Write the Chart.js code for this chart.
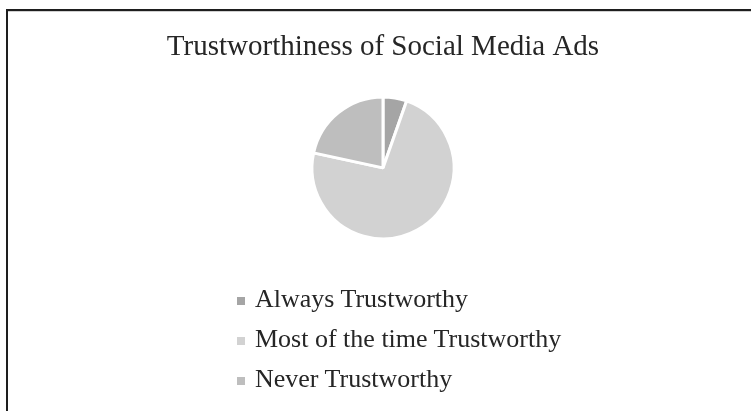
<!DOCTYPE html>
<html>
<head>
<meta charset="utf-8">
<script src="https://cdn.jsdelivr.net/npm/chart.js@4.4.0/dist/chart.umd.min.js"></script>
<style>
  html, body { margin: 0; padding: 0; background: #fff; }
  body { width: 751px; height: 411px; position: relative; overflow: hidden; }
  #frame {
    position: absolute; left: 6px; top: 9px; width: 760px; height: 420px;
    border-top: 2px solid #1e1e1e; border-left: 2px solid #1e1e1e;
    box-shadow: inset 0 1px 0 #d0d0d0;
  }
  #wrap { position: absolute; left: 0; top: 0; width: 751px; height: 411px; }
  #legend { position: absolute; left: 237px; top: 279px; margin: 0; padding: 0; list-style: none; }
  #legend li { position: relative; height: 40px; width: 400px; }
  #legend .box { position: absolute; left: 0; top: 18px; width: 8px; height: 8px; }
  #legend .txt {
    position: absolute; left: 18px; top: 0; line-height: 40px; white-space: nowrap;
    font-family: 'Liberation Serif', 'Times New Roman', serif; font-size: 26px; color: #262626;
  }
</style>
</head>
<body>
<div id="frame"></div>
<div id="wrap"><canvas id="myChart" width="751" height="411"></canvas></div>
<ul id="legend"></ul>
<script>
'use strict';
const categories = ['Always Trustworthy', 'Most of the time Trustworthy', 'Never Trustworthy'];
const shares = [5.4, 73.0, 21.6];
const sliceColors = ['#a5a5a5', '#d2d2d2', '#bebebe'];
const chartTitle = 'Trustworthiness of Social Media Ads';

const ctx = document.getElementById('myChart');
const chart = new Chart(ctx, {
    type: 'pie',
    data: {
        labels: categories,
        datasets: [{
            data: shares,
            backgroundColor: sliceColors,
            borderColor: '#ffffff',
            borderWidth: 3,
        }]
    },
    options: {
        responsive: false,
        animation: false,
        radius: 71,
        layout: {
            padding: { left: 15, right: 0, top: 0, bottom: 173 }
        },
        plugins: {
            legend: { display: false },
            tooltip: { enabled: false },
            title: {
                display: true,
                text: chartTitle,
                color: '#262626',
                font: { family: "'Liberation Serif', 'Times New Roman', serif", size: 29, weight: 'normal', lineHeight: 1.2 },
                padding: { top: 30, bottom: 33 }
            }
        }
    }
});

// legend list built from the chart's own labels
const legendElem = document.getElementById('legend');
const items = chart.options.plugins.legend.labels.generateLabels(chart);
for (let i = 0; i < items.length; i++) {
    const li = document.createElement('li');
    const box = document.createElement('span');
    box.className = 'box';
    box.style.background = items[i].fillStyle;
    const txt = document.createElement('span');
    txt.className = 'txt';
    txt.textContent = items[i].text;
    li.appendChild(box);
    li.appendChild(txt);
    legendElem.appendChild(li);
}
</script>
</body>
</html>
